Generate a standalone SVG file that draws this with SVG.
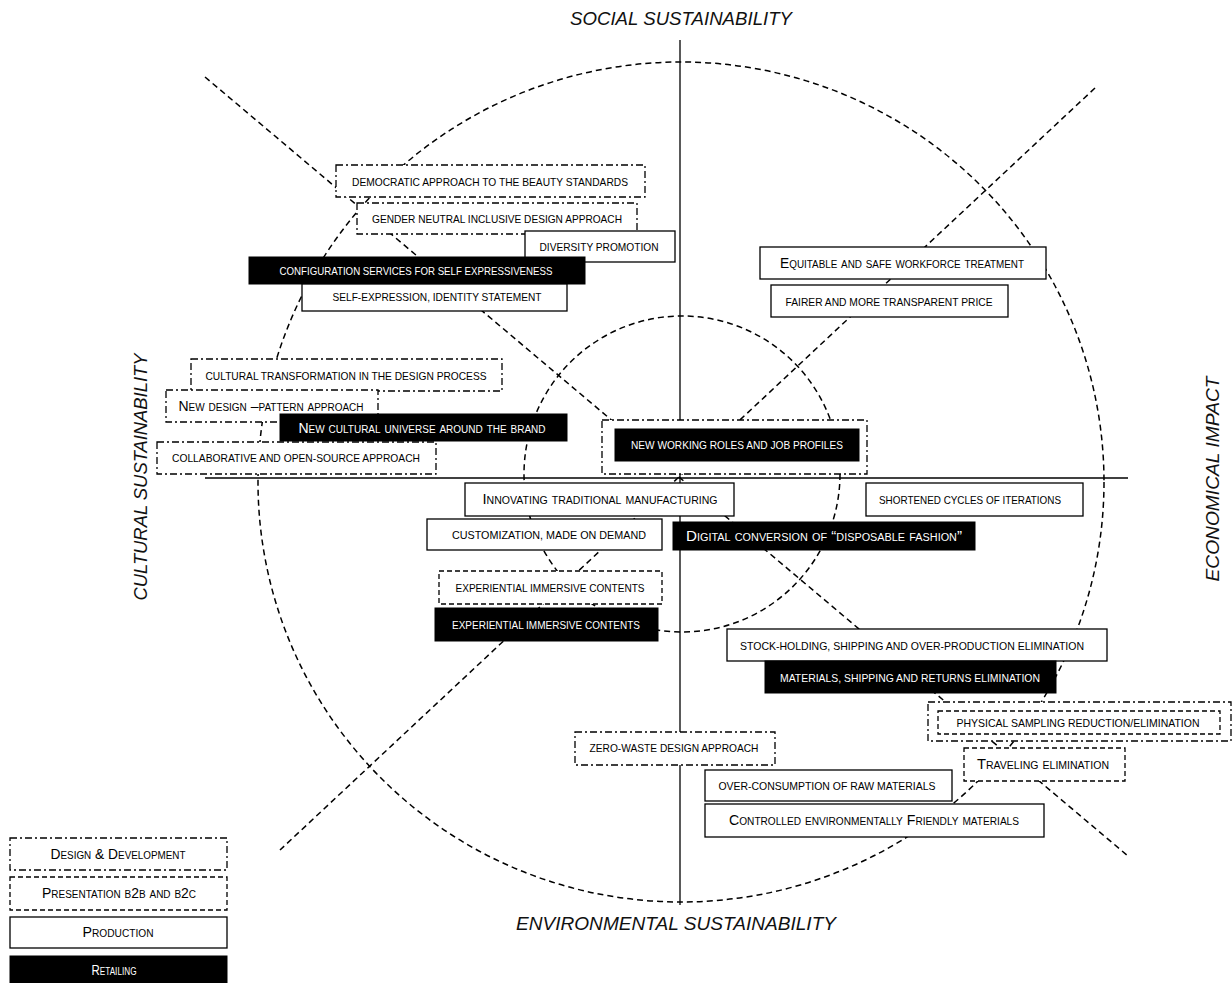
<svg xmlns="http://www.w3.org/2000/svg" width="1232" height="983" viewBox="0 0 1232 983">
<style>
.dd{fill:#fff;stroke:#000;stroke-width:1.3;stroke-dasharray:7 3 2 3}
.pr{fill:#fff;stroke:#000;stroke-width:1.3;stroke-dasharray:5 3}
.pd{fill:#fff;stroke:#000;stroke-width:1.3}
.rt{fill:#000;stroke:#000;stroke-width:1}
.t{font-family:'Liberation Sans',Arial,sans-serif;font-size:11.5px;text-anchor:middle;fill:#000}
.w{fill:#fff}
.sc{font-variant:small-caps;font-size:14px}
.ax-t{font-family:'Liberation Sans',Arial,sans-serif;font-style:italic;font-size:19px;text-anchor:middle;fill:#111}
.ln{fill:none;stroke:#000;stroke-width:1.5;stroke-dasharray:6 4}
.ax{fill:none;stroke:#000;stroke-width:1.3}
</style>
<rect width="1232" height="983" fill="#fff"/>
<g id="connectors">
<ellipse class="ln" cx="681" cy="482" rx="423" ry="420"/>
<circle class="ln" cx="682" cy="474" r="158"/>
<line class="ln" x1="205" y1="77" x2="1128" y2="856"/>
<line class="ln" x1="1095" y1="88" x2="280" y2="850"/>
<line class="ax" x1="680" y1="40" x2="680" y2="905"/>
<line class="ax" x1="205" y1="478" x2="1128" y2="478"/>
</g>
<g id="axis-labels">
<text class="ax-t" x="681" y="25" textLength="222" lengthAdjust="spacingAndGlyphs">SOCIAL SUSTAINABILITY</text>
<text class="ax-t" x="676" y="930" textLength="320" lengthAdjust="spacingAndGlyphs">ENVIRONMENTAL SUSTAINABILITY</text>
<text class="ax-t" transform="translate(147,477) rotate(-90)" textLength="247" lengthAdjust="spacingAndGlyphs">CULTURAL SUSTAINABILITY</text>
<text class="ax-t" transform="translate(1219,479) rotate(-90)" textLength="205" lengthAdjust="spacingAndGlyphs">ECONOMICAL IMPACT</text>
</g>
<g id="n-democratic"><rect class="dd" x="336" y="165" width="309" height="32"/><text class="t" x="490" y="186" textLength="276" lengthAdjust="spacingAndGlyphs">DEMOCRATIC APPROACH TO THE BEAUTY STANDARDS</text></g>
<g id="n-gender"><rect class="dd" x="357" y="203" width="280" height="31"/><text class="t" x="497" y="223" textLength="250" lengthAdjust="spacingAndGlyphs">GENDER NEUTRAL INCLUSIVE DESIGN APPROACH</text></g>
<g id="n-diversity"><rect class="pd" x="525" y="231" width="150" height="31"/><text class="t" x="599" y="251" textLength="119" lengthAdjust="spacingAndGlyphs">DIVERSITY PROMOTION</text></g>
<g id="n-configuration"><rect class="rt" x="249" y="257" width="336" height="27"/><text class="t w" x="416" y="275" textLength="273" lengthAdjust="spacingAndGlyphs">CONFIGURATION SERVICES FOR SELF EXPRESSIVENESS</text></g>
<g id="n-selfexpression"><rect class="pd" x="302" y="284" width="265" height="27"/><text class="t" x="437" y="301" textLength="209" lengthAdjust="spacingAndGlyphs">SELF-EXPRESSION, IDENTITY STATEMENT</text></g>
<g id="n-cultural-transformation"><rect class="dd" x="191" y="359" width="311" height="32"/><text class="t" x="346" y="380" textLength="281" lengthAdjust="spacingAndGlyphs">CULTURAL TRANSFORMATION IN THE DESIGN PROCESS</text></g>
<g id="n-new-design"><rect class="dd" x="166" y="390" width="212" height="32"/><text class="t sc" x="271" y="411" textLength="185" lengthAdjust="spacingAndGlyphs">New design –pattern  approach</text></g>
<g id="n-cultural-universe"><rect class="rt" x="280" y="414" width="287" height="27"/><text class="t sc w" x="422" y="433" textLength="247" lengthAdjust="spacingAndGlyphs">New cultural universe around the brand</text></g>
<g id="n-collaborative"><rect class="dd" x="157" y="442" width="279" height="32"/><text class="t" x="296" y="462" textLength="248" lengthAdjust="spacingAndGlyphs">COLLABORATIVE AND OPEN-SOURCE APPROACH</text></g>
<g id="n-working-roles"><rect class="dd" x="602" y="420" width="265" height="54"/><rect class="rt" x="615" y="429" width="244" height="32"/><text class="t w" x="737" y="449" textLength="212" lengthAdjust="spacingAndGlyphs">NEW WORKING ROLES AND JOB PROFILES</text></g>
<g id="n-equitable"><rect class="pd" x="760" y="247" width="286" height="32"/><text class="t sc" x="902" y="268" textLength="244" lengthAdjust="spacingAndGlyphs">Equitable and safe workforce treatment</text></g>
<g id="n-fairer"><rect class="pd" x="771" y="285" width="237" height="32"/><text class="t" x="889" y="306" textLength="207" lengthAdjust="spacingAndGlyphs">FAIRER AND MORE TRANSPARENT PRICE</text></g>
<g id="n-innovating"><rect class="pd" x="465" y="483" width="269" height="33"/><text class="t sc" x="600" y="504" textLength="235" lengthAdjust="spacingAndGlyphs">Innovating traditional manufacturing</text></g>
<g id="n-shortened"><rect class="pd" x="866" y="483" width="217" height="33"/><text class="t" x="970" y="504" textLength="182" lengthAdjust="spacingAndGlyphs">SHORTENED CYCLES OF ITERATIONS</text></g>
<g id="n-customization"><rect class="pd" x="427" y="519" width="235" height="31"/><text class="t" x="549" y="539" textLength="194" lengthAdjust="spacingAndGlyphs">CUSTOMIZATION, MADE ON DEMAND</text></g>
<g id="n-digital"><rect class="rt" x="673" y="522" width="302" height="28"/><text class="t sc w" x="824" y="541" textLength="276" lengthAdjust="spacingAndGlyphs">Digital conversion of “disposable fashion”</text></g>
<g id="n-experiential-1"><rect class="pr" x="439" y="571" width="223" height="33"/><text class="t" x="550" y="592" textLength="189" lengthAdjust="spacingAndGlyphs">EXPERIENTIAL IMMERSIVE CONTENTS</text></g>
<g id="n-experiential-2"><rect class="rt" x="435" y="608" width="223" height="33"/><text class="t w" x="546" y="629" textLength="188" lengthAdjust="spacingAndGlyphs">EXPERIENTIAL IMMERSIVE CONTENTS</text></g>
<g id="n-stockholding"><rect class="pd" x="727" y="629" width="380" height="32"/><text class="t" x="912" y="650" textLength="344" lengthAdjust="spacingAndGlyphs">STOCK-HOLDING, SHIPPING AND OVER-PRODUCTION ELIMINATION</text></g>
<g id="n-materials"><rect class="rt" x="765" y="661" width="291" height="32"/><text class="t w" x="910" y="682" textLength="260" lengthAdjust="spacingAndGlyphs">MATERIALS, SHIPPING AND RETURNS ELIMINATION</text></g>
<g id="n-physical"><rect class="dd" x="928" y="702" width="303" height="39"/><rect class="pr" x="938" y="711" width="282" height="23"/><text class="t" x="1078" y="727" textLength="243" lengthAdjust="spacingAndGlyphs">PHYSICAL SAMPLING REDUCTION/ELIMINATION</text></g>
<g id="n-zerowaste"><rect class="dd" x="575" y="732" width="200" height="33"/><text class="t" x="674" y="752" textLength="169" lengthAdjust="spacingAndGlyphs">ZERO-WASTE DESIGN APPROACH</text></g>
<g id="n-traveling"><rect class="pr" x="964" y="748" width="161" height="33"/><text class="t sc" x="1043" y="769" textLength="132" lengthAdjust="spacingAndGlyphs">Traveling elimination</text></g>
<g id="n-overconsumption"><rect class="pd" x="705" y="770" width="247" height="31"/><text class="t" x="827" y="790" textLength="217" lengthAdjust="spacingAndGlyphs">OVER-CONSUMPTION OF RAW MATERIALS</text></g>
<g id="n-controlled"><rect class="pd" x="705" y="804" width="339" height="33"/><text class="t sc" x="874" y="825" textLength="290" lengthAdjust="spacingAndGlyphs">Controlled environmentally  Friendly materials</text></g>
<g id="legend">
<g id="lg-design"><rect class="dd" x="10" y="838" width="217" height="32"/><text class="t sc" x="118" y="859" textLength="135" lengthAdjust="spacingAndGlyphs">Design &amp; Development</text></g>
<g id="lg-presentation"><rect class="pr" x="10" y="877" width="217" height="33"/><text class="t sc" x="119" y="898" textLength="154" lengthAdjust="spacingAndGlyphs">Presentation b2b and b2c</text></g>
<g id="lg-production"><rect class="pd" x="10" y="917" width="217" height="31"/><text class="t sc" x="118" y="937" textLength="71" lengthAdjust="spacingAndGlyphs">Production</text></g>
<g id="lg-retailing"><rect class="rt" x="10" y="956" width="217" height="30"/><text class="t sc w" x="114" y="975" textLength="45" lengthAdjust="spacingAndGlyphs">Retailing</text></g>
</g>
</svg>
